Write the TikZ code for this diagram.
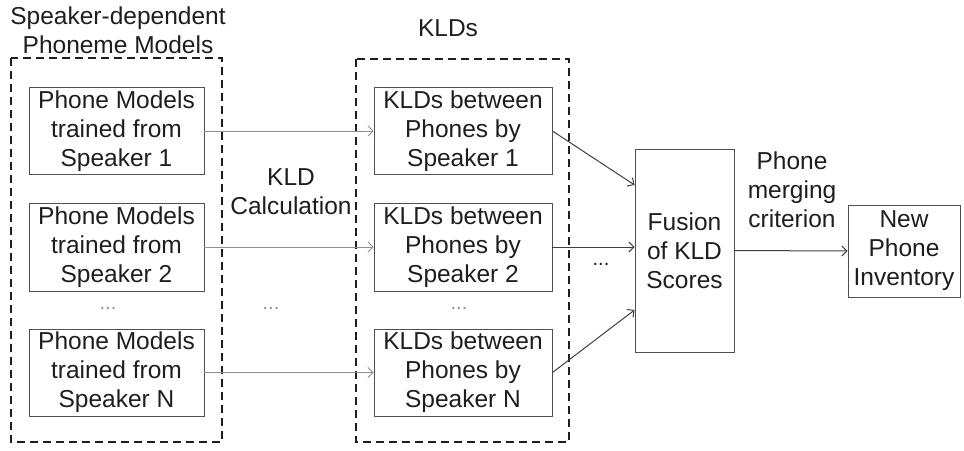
\documentclass[tikz,border=0pt]{standalone}
\usepackage{fontspec}
\setmainfont{Liberation Sans}
\usetikzlibrary{arrows.meta}
\definecolor{ink}{HTML}{1E1E1E}
\definecolor{boxline}{HTML}{505050}
\definecolor{faint}{HTML}{909090}
\tikzset{
  x=1pt, y=-1pt,
  every node/.style={text=ink, font=\fontsize{24.5}{29}\selectfont, align=center, inner sep=0pt},
  stagebox/.style={draw=boxline, line width=0.9pt, rectangle},
  groupbox/.style={draw=ink, line width=2.4pt, dash pattern=on 8pt off 5pt},
  thinarrow/.style={draw=faint, line width=0.9pt, -{Straight Barb[length=5pt,width=10pt]}},
  mainarrow/.style={draw=ink!85, line width=1pt, -{Straight Barb[length=5pt,width=10pt]}},
  ellip/.style={text=faint, font=\fontsize{20}{24}\selectfont},
}
\begin{document}
\begin{tikzpicture}
\useasboundingbox (0,0) rectangle (964,450);

% group frames
\draw[groupbox] (11,58) rectangle (222,442);
\draw[groupbox] (356,59) rectangle (569,442);

% group labels
\node (lblSD) at (118,30) {Speaker-dependent\\Phoneme Models};
\node (lblKL) at (448,28) {KLDs};
\node (lblCalc) at (291,192) {KLD\\Calculation};

% speaker-dependent phone models
\node[stagebox, minimum width=175pt, minimum height=87pt] (p1) at (116.5,131) {Phone Models\\trained from\\Speaker 1};
\node[stagebox, minimum width=175pt, minimum height=88pt] (p2) at (116.5,247) {Phone Models\\trained from\\Speaker 2};
\node[stagebox, minimum width=175pt, minimum height=87pt] (pN) at (116.5,372.5) {Phone Models\\trained from\\Speaker N};

% per-speaker KLDs
\node[stagebox, minimum width=178pt, minimum height=87pt] (k1) at (463,131) {KLDs between\\Phones by\\Speaker 1};
\node[stagebox, minimum width=178pt, minimum height=88pt] (k2) at (463,247) {KLDs between\\Phones by\\Speaker 2};
\node[stagebox, minimum width=178pt, minimum height=87pt] (kN) at (463,372.5) {KLDs between\\Phones by\\Speaker N};

% ellipses
\node[ellip] (dotsP) at (108,308) {...};
\node[ellip] (dotsC) at (271,308) {...};
\node[ellip] (dotsK) at (459,308) {...};
\node[font=\fontsize{20}{24}\selectfont] (dotsF) at (601,264) {...};

% fusion and output
\node[stagebox, minimum width=99pt, minimum height=203pt] (fus) at (684.5,250.5) {Fusion\\of KLD\\Scores};
\node[stagebox, minimum width=112pt, minimum height=92pt] (inv) at (904,251) {New\\Phone\\Inventory};
\node (lblMerge) at (792,190) {Phone\\merging\\criterion};

% connectors
\draw[thinarrow] (p1.east) -- (k1.west);
\draw[thinarrow] (p2.east) -- (k2.west);
\draw[thinarrow] (pN.east) -- (kN.west);
\draw[mainarrow] (k1.east) -- ([yshift=65.5pt]fus.west);
\draw[mainarrow] (k2.east) -- (k2.east -| fus.west);
\draw[mainarrow] (kN.east) -- ([yshift=-59.5pt]fus.west);
\draw[mainarrow] (fus.east) -- (inv.west);
\end{tikzpicture}
\end{document}
